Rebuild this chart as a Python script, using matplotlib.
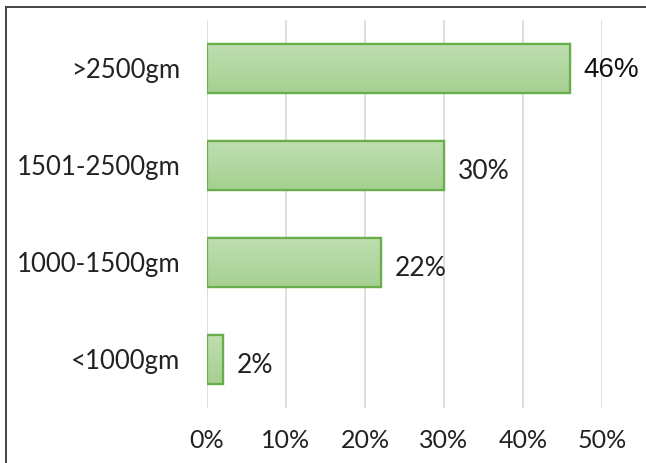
import matplotlib.pyplot as plt
import numpy as np
from matplotlib.patches import Rectangle
from matplotlib.lines import Line2D
from matplotlib.colors import LinearSegmentedColormap

categories = ["<1000gm", "1000-1500gm", "1501-2500gm", ">2500gm"]
values = [2, 22, 30, 46]
xticks = [0, 10, 20, 30, 40, 50]
xtick_labels = ["0%", "10%", "20%", "30%", "40%", "50%"]

plt.rcParams['font.family'] = ['Lato', 'DejaVu Sans']

fig = plt.figure(figsize=(6.46, 4.63), dpi=100)
ax = fig.add_axes([207 / 646, 1 - 408 / 463, (602 - 207) / 646, 388 / 463])

# gradient for the bar fill (lighter at top)
grad = np.linspace(0, 1, 50).reshape(-1, 1)
cmap = LinearSegmentedColormap.from_list("g", ["#a6d091", "#bedeb0"])

ypos = np.arange(len(categories))
bars = ax.barh(ypos, values, height=0.5, color="#b1d69f",
               edgecolor="#6aae4c", linewidth=1.6, zorder=3)
for b in bars:
    x0, y0 = b.get_x(), b.get_y()
    w, h = b.get_width(), b.get_height()
    im = ax.imshow(grad, extent=[x0, x0 + w, y0, y0 + h], aspect="auto",
                   cmap=cmap, origin="lower", zorder=3.5)
    im.set_clip_path(b)
    # redraw border over gradient
    ax.add_patch(Rectangle((x0, y0), w, h, fill=False, edgecolor="#6aae4c",
                           linewidth=1.6, zorder=4))

for i, v in enumerate(values):
    if v == max(values):
        ax.text(v + 1.6, i - 0.02, f"{v}%", va="center", ha="left",
                fontsize=20, family=["Liberation Sans", "DejaVu Sans"], color="#111111")
    else:
        ax.text(v + 1.8, i - 0.06, f"{v}%", va="center", ha="left",
                fontsize=19, color="#222222")

ax.set_xlim(0, 50)
ax.set_ylim(-0.5, 3.5)
ax.set_xticks(xticks)
ax.set_xticklabels(xtick_labels, fontsize=18, color="#222222")
ax.set_yticks(ypos)
ax.set_yticklabels(categories, fontsize=18.5, color="#222222")
ax.tick_params(axis="both", length=0)
ax.tick_params(axis="x", pad=15)
ax.tick_params(axis="y", pad=19)
ax.grid(axis="x", color="#d9d9d9", linewidth=1.2, zorder=0)
ax.set_axisbelow(True)
for s in ax.spines.values():
    s.set_visible(False)

# outer frame of the picture (top and left edges visible)
fig.add_artist(Line2D([6 / 646, 1], [1 - 7 / 463, 1 - 7 / 463],
                      transform=fig.transFigure, color="#444444", linewidth=1.4))
fig.add_artist(Line2D([6 / 646, 6 / 646], [0, 1 - 7 / 463],
                      transform=fig.transFigure, color="#444444", linewidth=1.4))

fig.savefig("out.png", dpi=100)
